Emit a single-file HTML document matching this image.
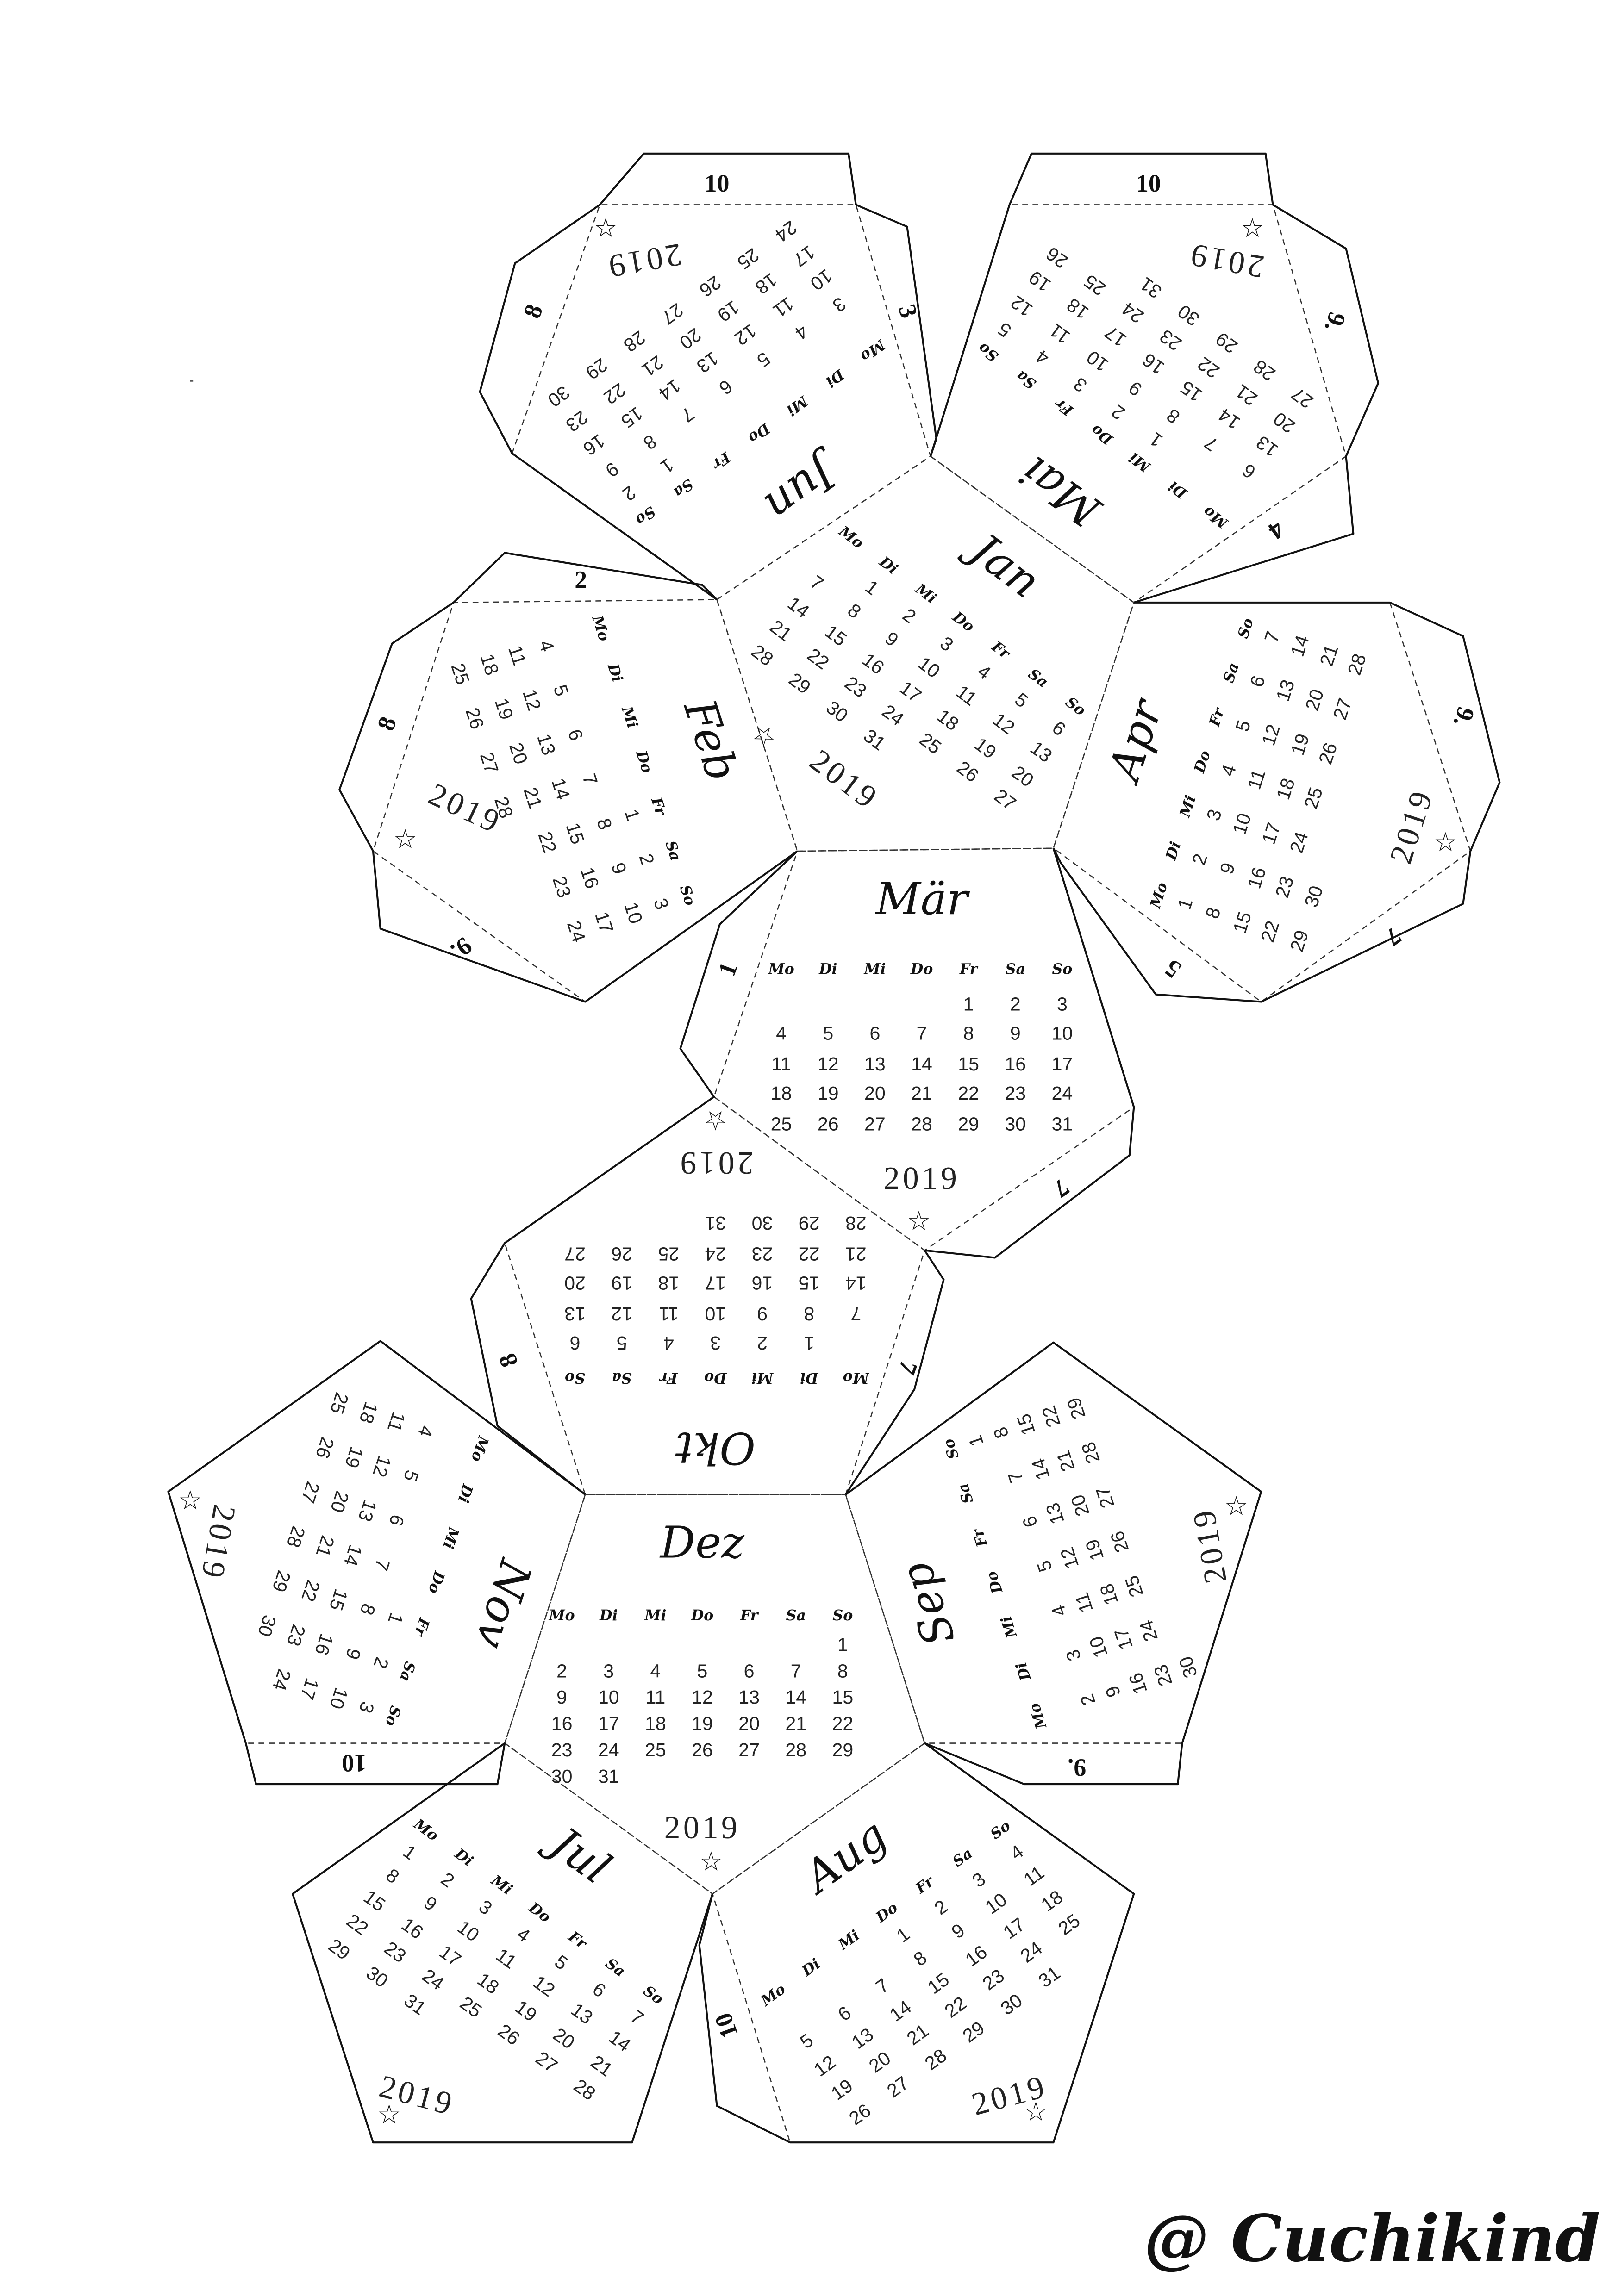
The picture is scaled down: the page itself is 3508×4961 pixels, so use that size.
<!DOCTYPE html>
<html><head><meta charset="utf-8">
<style>
html,body{margin:0;padding:0;background:#fff;}
svg{display:block;}
.d{fill:none;stroke:#333;stroke-width:0.8;stroke-dasharray:4 3;}
.s{fill:none;stroke:#111;stroke-width:1.3;stroke-linejoin:round;}
.m{font-family:"DejaVu Serif","Liberation Serif",serif;font-style:italic;font-size:30px;text-anchor:middle;fill:#111;}
.h{font-family:"DejaVu Serif","Liberation Serif",serif;font-style:italic;font-weight:bold;font-size:10px;text-anchor:middle;fill:#111;}
.n{font-family:"Liberation Sans",sans-serif;font-size:13px;text-anchor:middle;fill:#222;}
.y{font-family:"Liberation Serif",serif;font-size:22px;text-anchor:middle;fill:#222;letter-spacing:2px;}
.t{font-family:"Liberation Serif",serif;font-weight:bold;font-size:17px;text-anchor:middle;fill:#111;}
.st{font-family:"DejaVu Sans",sans-serif;font-size:18px;text-anchor:middle;fill:#111;}
</style></head>
<body>
<svg width="3508" height="4961" viewBox="0 0 1110 1570" preserveAspectRatio="none" xmlns="http://www.w3.org/2000/svg">
<rect width="1110" height="1570" fill="#fff"/>
<polygon class="d" points="490,410 636,312 775,412 720,580 545,582"/>
<polygon class="d" points="545,582 720,580 775,757 632,855 488,750"/>
<polygon class="d" points="488,750 632,855 578,1022 400,1022 345,850"/>
<polygon class="d" points="400,1022 578,1022 632,1192 487,1295 345,1192"/>
<polygon class="d" points="260,917 400,1022 345,1192 168,1192 115,1020"/>
<polygon class="d" points="578,1022 720,918 862,1020 808,1192 632,1192"/>
<polygon class="d" points="345,1192 487,1295 432,1465 255,1465 200,1295"/>
<polygon class="d" points="487,1295 632,1192 775,1295 720,1465 540,1465"/>
<polygon class="d" points="490,410 545,582 400,685 255,582 310,412"/>
<polygon class="d" points="775,412 950,412 1005,582 862,685 720,580"/>
<polygon class="d" points="490,410 636,312 585,140 410,140 350,310"/>
<polygon class="d" points="636,312 690,140 870,140 920,312 775,412"/>

<polyline class="s" points="410,140 440,105 580,105 585,140"/>
<polyline class="s" points="410,140 352,180 328,268 350,310 490,410"/>
<polyline class="s" points="585,140 620,155 640,300 636,312"/>
<polyline class="s" points="636,312 690,140 705,105 865,105 870,140 920,170 942,262 920,312 925,365 775,412"/>
<polyline class="s" points="490,410 480,400 345,378 310,412 268,440 232,540 255,582 260,635 400,685 545,582"/>
<polyline class="s" points="775,412 950,412 1000,435 1025,535 1005,582 1000,618 862,685 790,680 725,590 720,580"/>
<polyline class="s" points="720,580 775,757 772,790 680,860 632,855"/>
<polyline class="s" points="545,582 492,632 465,717 488,750 345,850 322,888 340,975 400,1022"/>
<polyline class="s" points="632,855 645,875 625,950 578,1022"/>
<polyline class="s" points="400,1022 260,917 115,1020 168,1192 175,1220 340,1220 345,1192"/>
<polyline class="s" points="578,1022 720,918 862,1020 808,1192 805,1220 700,1220 632,1192"/>
<polyline class="s" points="345,1192 200,1295 255,1465 432,1465 487,1295"/>
<polyline class="s" points="487,1295 478,1330 490,1440 540,1465 720,1465 775,1295 632,1192"/>

<text class="t" x="490" y="131">10</text>
<text class="t" x="785" y="131">10</text>
<text class="t" x="365" y="218" transform="rotate(-70 365 213)">8</text>
<text class="t" x="620" y="218" transform="rotate(72 620 213)">3</text>
<text class="t" x="912" y="225" transform="rotate(108 912 220)">9.</text>
<text class="t" x="872" y="367" transform="rotate(144 872 362)">4</text>
<text class="t" x="397" y="402">2</text>
<text class="t" x="265" y="500" transform="rotate(-70 265 495)">8</text>
<text class="t" x="315" y="653" transform="rotate(144 315 648)">9.</text>
<text class="t" x="1000" y="495" transform="rotate(108 1000 490)">9.</text>
<text class="t" x="952" y="645" transform="rotate(144 952 640)">7</text>
<text class="t" x="802" y="667" transform="rotate(-144 802 662)">5</text>
<text class="t" x="498" y="668" transform="rotate(-70 498 663)">1</text>
<text class="t" x="725" y="817" transform="rotate(144 725 812)">7</text>
<text class="t" x="348" y="935" transform="rotate(-110 348 930)">8</text>
<text class="t" x="620" y="940" transform="rotate(110 620 935)">7</text>
<text class="t" x="242" y="1212" transform="rotate(180 242 1206)">10</text>
<text class="t" x="736" y="1215" transform="rotate(180 736 1209)">9.</text>
<text class="t" x="497" y="1390" transform="rotate(-110 497 1385)">10</text>

<g transform="translate(633,459) rotate(37)">
<text class="m" y="-80">Jan</text>
<text class="h" y="-39"><tspan x="-96">Mo</tspan><tspan x="-64">Di</tspan><tspan x="-32">Mi</tspan><tspan x="0">Do</tspan><tspan x="32">Fr</tspan><tspan x="64">Sa</tspan><tspan x="96">So</tspan></text>
<text class="n" y="-19"><tspan x="-64">1</tspan><tspan x="-32">2</tspan><tspan x="0">3</tspan><tspan x="32">4</tspan><tspan x="64">5</tspan><tspan x="96">6</tspan></text>
<text class="n" y="1"><tspan x="-96">7</tspan><tspan x="-64">8</tspan><tspan x="-32">9</tspan><tspan x="0">10</tspan><tspan x="32">11</tspan><tspan x="64">12</tspan><tspan x="96">13</tspan></text>
<text class="n" y="22"><tspan x="-96">14</tspan><tspan x="-64">15</tspan><tspan x="-32">16</tspan><tspan x="0">17</tspan><tspan x="32">18</tspan><tspan x="64">19</tspan><tspan x="96">20</tspan></text>
<text class="n" y="42"><tspan x="-96">21</tspan><tspan x="-64">22</tspan><tspan x="-32">23</tspan><tspan x="0">24</tspan><tspan x="32">25</tspan><tspan x="64">26</tspan><tspan x="96">27</tspan></text>
<text class="n" y="63"><tspan x="-96">28</tspan><tspan x="-64">29</tspan><tspan x="-32">30</tspan><tspan x="0">31</tspan></text>
<text class="y" y="100">2019</text>
<text class="st" x="-62" y="108">☆</text>
</g>

<g transform="translate(630,705)">
<text class="m" y="-80">Mär</text>
<text class="h" y="-39"><tspan x="-96">Mo</tspan><tspan x="-64">Di</tspan><tspan x="-32">Mi</tspan><tspan x="0">Do</tspan><tspan x="32">Fr</tspan><tspan x="64">Sa</tspan><tspan x="96">So</tspan></text>
<text class="n" y="-14"><tspan x="32">1</tspan><tspan x="64">2</tspan><tspan x="96">3</tspan></text>
<text class="n" y="6"><tspan x="-96">4</tspan><tspan x="-64">5</tspan><tspan x="-32">6</tspan><tspan x="0">7</tspan><tspan x="32">8</tspan><tspan x="64">9</tspan><tspan x="96">10</tspan></text>
<text class="n" y="27"><tspan x="-96">11</tspan><tspan x="-64">12</tspan><tspan x="-32">13</tspan><tspan x="0">14</tspan><tspan x="32">15</tspan><tspan x="64">16</tspan><tspan x="96">17</tspan></text>
<text class="n" y="47"><tspan x="-96">18</tspan><tspan x="-64">19</tspan><tspan x="-32">20</tspan><tspan x="0">21</tspan><tspan x="32">22</tspan><tspan x="64">23</tspan><tspan x="96">24</tspan></text>
<text class="n" y="68"><tspan x="-96">25</tspan><tspan x="-64">26</tspan><tspan x="-32">27</tspan><tspan x="0">28</tspan><tspan x="32">29</tspan><tspan x="64">30</tspan><tspan x="96">31</tspan></text>
<text class="y" y="108">2019</text>
<text class="st" x="-2" y="136">☆</text>
</g>

<g transform="translate(489,900) rotate(180)">
<text class="m" y="-80">Okt</text>
<text class="h" y="-39"><tspan x="-96">Mo</tspan><tspan x="-64">Di</tspan><tspan x="-32">Mi</tspan><tspan x="0">Do</tspan><tspan x="32">Fr</tspan><tspan x="64">Sa</tspan><tspan x="96">So</tspan></text>
<text class="n" y="-14"><tspan x="-64">1</tspan><tspan x="-32">2</tspan><tspan x="0">3</tspan><tspan x="32">4</tspan><tspan x="64">5</tspan><tspan x="96">6</tspan></text>
<text class="n" y="6"><tspan x="-96">7</tspan><tspan x="-64">8</tspan><tspan x="-32">9</tspan><tspan x="0">10</tspan><tspan x="32">11</tspan><tspan x="64">12</tspan><tspan x="96">13</tspan></text>
<text class="n" y="27"><tspan x="-96">14</tspan><tspan x="-64">15</tspan><tspan x="-32">16</tspan><tspan x="0">17</tspan><tspan x="32">18</tspan><tspan x="64">19</tspan><tspan x="96">20</tspan></text>
<text class="n" y="47"><tspan x="-96">21</tspan><tspan x="-64">22</tspan><tspan x="-32">23</tspan><tspan x="0">24</tspan><tspan x="32">25</tspan><tspan x="64">26</tspan><tspan x="96">27</tspan></text>
<text class="n" y="68"><tspan x="-96">28</tspan><tspan x="-64">29</tspan><tspan x="-32">30</tspan><tspan x="0">31</tspan></text>
<text class="y" y="112">2019</text>
<text class="st" x="0" y="140">☆</text>
</g>

<g transform="translate(480,1145)">
<text class="m" y="-80">Dez</text>
<text class="h" y="-37"><tspan x="-96">Mo</tspan><tspan x="-64">Di</tspan><tspan x="-32">Mi</tspan><tspan x="0">Do</tspan><tspan x="32">Fr</tspan><tspan x="64">Sa</tspan><tspan x="96">So</tspan></text>
<text class="n" y="-16"><tspan x="96">1</tspan></text>
<text class="n" y="2"><tspan x="-96">2</tspan><tspan x="-64">3</tspan><tspan x="-32">4</tspan><tspan x="0">5</tspan><tspan x="32">6</tspan><tspan x="64">7</tspan><tspan x="96">8</tspan></text>
<text class="n" y="20"><tspan x="-96">9</tspan><tspan x="-64">10</tspan><tspan x="-32">11</tspan><tspan x="0">12</tspan><tspan x="32">13</tspan><tspan x="64">14</tspan><tspan x="96">15</tspan></text>
<text class="n" y="38"><tspan x="-96">16</tspan><tspan x="-64">17</tspan><tspan x="-32">18</tspan><tspan x="0">19</tspan><tspan x="32">20</tspan><tspan x="64">21</tspan><tspan x="96">22</tspan></text>
<text class="n" y="56"><tspan x="-96">23</tspan><tspan x="-64">24</tspan><tspan x="-32">25</tspan><tspan x="0">26</tspan><tspan x="32">27</tspan><tspan x="64">28</tspan><tspan x="96">29</tspan></text>
<text class="n" y="74"><tspan x="-96">30</tspan><tspan x="-64">31</tspan></text>
<text class="y" y="112">2019</text>
<text class="st" x="6" y="134">☆</text>
</g>

<g transform="translate(258,1069) rotate(108)">
<text class="m" y="-80">Nov</text>
<text class="h" y="-39"><tspan x="-96">Mo</tspan><tspan x="-64">Di</tspan><tspan x="-32">Mi</tspan><tspan x="0">Do</tspan><tspan x="32">Fr</tspan><tspan x="64">Sa</tspan><tspan x="96">So</tspan></text>
<text class="n" y="-19"><tspan x="32">1</tspan><tspan x="64">2</tspan><tspan x="96">3</tspan></text>
<text class="n" y="1"><tspan x="-96">4</tspan><tspan x="-64">5</tspan><tspan x="-32">6</tspan><tspan x="0">7</tspan><tspan x="32">8</tspan><tspan x="64">9</tspan><tspan x="96">10</tspan></text>
<text class="n" y="22"><tspan x="-96">11</tspan><tspan x="-64">12</tspan><tspan x="-32">13</tspan><tspan x="0">14</tspan><tspan x="32">15</tspan><tspan x="64">16</tspan><tspan x="96">17</tspan></text>
<text class="n" y="42"><tspan x="-96">18</tspan><tspan x="-64">19</tspan><tspan x="-32">20</tspan><tspan x="0">21</tspan><tspan x="32">22</tspan><tspan x="64">23</tspan><tspan x="96">24</tspan></text>
<text class="n" y="63"><tspan x="-96">25</tspan><tspan x="-64">26</tspan><tspan x="-32">27</tspan><tspan x="0">28</tspan><tspan x="32">29</tspan><tspan x="64">30</tspan></text>
</g>
<text class="y" x="150" y="1063" transform="rotate(100 150 1055)">2019</text>
<text class="st" x="130" y="1032">☆</text>

<g transform="translate(720,1069) rotate(-108)">
<text class="m" y="-80">Sep</text>
<text class="h" y="-39"><tspan x="-96">Mo</tspan><tspan x="-64">Di</tspan><tspan x="-32">Mi</tspan><tspan x="0">Do</tspan><tspan x="32">Fr</tspan><tspan x="64">Sa</tspan><tspan x="96">So</tspan></text>
<text class="n" y="-20"><tspan x="96">1</tspan></text>
<text class="n" y="-2"><tspan x="-96">2</tspan><tspan x="-64">3</tspan><tspan x="-32">4</tspan><tspan x="0">5</tspan><tspan x="32">6</tspan><tspan x="64">7</tspan><tspan x="96">8</tspan></text>
<text class="n" y="16"><tspan x="-96">9</tspan><tspan x="-64">10</tspan><tspan x="-32">11</tspan><tspan x="0">12</tspan><tspan x="32">13</tspan><tspan x="64">14</tspan><tspan x="96">15</tspan></text>
<text class="n" y="34"><tspan x="-96">16</tspan><tspan x="-64">17</tspan><tspan x="-32">18</tspan><tspan x="0">19</tspan><tspan x="32">20</tspan><tspan x="64">21</tspan><tspan x="96">22</tspan></text>
<text class="n" y="52"><tspan x="-96">23</tspan><tspan x="-64">24</tspan><tspan x="-32">25</tspan><tspan x="0">26</tspan><tspan x="32">27</tspan><tspan x="64">28</tspan><tspan x="96">29</tspan></text>
<text class="n" y="70"><tspan x="-96">30</tspan></text>
</g>
<text class="y" x="826" y="1065" transform="rotate(-100 826 1057)">2019</text>
<text class="st" x="845" y="1036">☆</text>

<g transform="translate(344,1342) rotate(36)">
<text class="m" y="-80">Jul</text>
<text class="h" y="-39"><tspan x="-96">Mo</tspan><tspan x="-64">Di</tspan><tspan x="-32">Mi</tspan><tspan x="0">Do</tspan><tspan x="32">Fr</tspan><tspan x="64">Sa</tspan><tspan x="96">So</tspan></text>
<text class="n" y="-19"><tspan x="-96">1</tspan><tspan x="-64">2</tspan><tspan x="-32">3</tspan><tspan x="0">4</tspan><tspan x="32">5</tspan><tspan x="64">6</tspan><tspan x="96">7</tspan></text>
<text class="n" y="1"><tspan x="-96">8</tspan><tspan x="-64">9</tspan><tspan x="-32">10</tspan><tspan x="0">11</tspan><tspan x="32">12</tspan><tspan x="64">13</tspan><tspan x="96">14</tspan></text>
<text class="n" y="22"><tspan x="-96">15</tspan><tspan x="-64">16</tspan><tspan x="-32">17</tspan><tspan x="0">18</tspan><tspan x="32">19</tspan><tspan x="64">20</tspan><tspan x="96">21</tspan></text>
<text class="n" y="42"><tspan x="-96">22</tspan><tspan x="-64">23</tspan><tspan x="-32">24</tspan><tspan x="0">25</tspan><tspan x="32">26</tspan><tspan x="64">27</tspan><tspan x="96">28</tspan></text>
<text class="n" y="63"><tspan x="-96">29</tspan><tspan x="-64">30</tspan><tspan x="-32">31</tspan></text>
</g>
<text class="y" x="285" y="1440" transform="rotate(15 285 1433)">2019</text>
<text class="st" x="266" y="1452">☆</text>

<g transform="translate(631,1342) rotate(-36)">
<text class="m" y="-80">Aug</text>
<text class="h" y="-39"><tspan x="-96">Mo</tspan><tspan x="-64">Di</tspan><tspan x="-32">Mi</tspan><tspan x="0">Do</tspan><tspan x="32">Fr</tspan><tspan x="64">Sa</tspan><tspan x="96">So</tspan></text>
<text class="n" y="-19"><tspan x="0">1</tspan><tspan x="32">2</tspan><tspan x="64">3</tspan><tspan x="96">4</tspan></text>
<text class="n" y="1"><tspan x="-96">5</tspan><tspan x="-64">6</tspan><tspan x="-32">7</tspan><tspan x="0">8</tspan><tspan x="32">9</tspan><tspan x="64">10</tspan><tspan x="96">11</tspan></text>
<text class="n" y="22"><tspan x="-96">12</tspan><tspan x="-64">13</tspan><tspan x="-32">14</tspan><tspan x="0">15</tspan><tspan x="32">16</tspan><tspan x="64">17</tspan><tspan x="96">18</tspan></text>
<text class="n" y="42"><tspan x="-96">19</tspan><tspan x="-64">20</tspan><tspan x="-32">21</tspan><tspan x="0">22</tspan><tspan x="32">23</tspan><tspan x="64">24</tspan><tspan x="96">25</tspan></text>
<text class="n" y="63"><tspan x="-96">26</tspan><tspan x="-64">27</tspan><tspan x="-32">28</tspan><tspan x="0">29</tspan><tspan x="32">30</tspan><tspan x="64">31</tspan></text>
</g>
<text class="y" x="690" y="1440" transform="rotate(-15 690 1433)">2019</text>
<text class="st" x="708" y="1450">☆</text>

<g transform="translate(400,534) rotate(72)">
<text class="m" y="-80">Feb</text>
<text class="h" y="-39"><tspan x="-96">Mo</tspan><tspan x="-64">Di</tspan><tspan x="-32">Mi</tspan><tspan x="0">Do</tspan><tspan x="32">Fr</tspan><tspan x="64">Sa</tspan><tspan x="96">So</tspan></text>
<text class="n" y="-19"><tspan x="32">1</tspan><tspan x="64">2</tspan><tspan x="96">3</tspan></text>
<text class="n" y="1"><tspan x="-96">4</tspan><tspan x="-64">5</tspan><tspan x="-32">6</tspan><tspan x="0">7</tspan><tspan x="32">8</tspan><tspan x="64">9</tspan><tspan x="96">10</tspan></text>
<text class="n" y="22"><tspan x="-96">11</tspan><tspan x="-64">12</tspan><tspan x="-32">13</tspan><tspan x="0">14</tspan><tspan x="32">15</tspan><tspan x="64">16</tspan><tspan x="96">17</tspan></text>
<text class="n" y="42"><tspan x="-96">18</tspan><tspan x="-64">19</tspan><tspan x="-32">20</tspan><tspan x="0">21</tspan><tspan x="32">22</tspan><tspan x="64">23</tspan><tspan x="96">24</tspan></text>
<text class="n" y="63"><tspan x="-96">25</tspan><tspan x="-64">26</tspan><tspan x="-32">27</tspan><tspan x="0">28</tspan></text>
</g>
<text class="y" x="318" y="560" transform="rotate(25 318 553)">2019</text>
<text class="st" x="277" y="580">☆</text>

<g transform="translate(862,534) rotate(-72)">
<text class="m" y="-80">Apr</text>
<text class="h" y="-39"><tspan x="-96">Mo</tspan><tspan x="-64">Di</tspan><tspan x="-32">Mi</tspan><tspan x="0">Do</tspan><tspan x="32">Fr</tspan><tspan x="64">Sa</tspan><tspan x="96">So</tspan></text>
<text class="n" y="-19"><tspan x="-96">1</tspan><tspan x="-64">2</tspan><tspan x="-32">3</tspan><tspan x="0">4</tspan><tspan x="32">5</tspan><tspan x="64">6</tspan><tspan x="96">7</tspan></text>
<text class="n" y="1"><tspan x="-96">8</tspan><tspan x="-64">9</tspan><tspan x="-32">10</tspan><tspan x="0">11</tspan><tspan x="32">12</tspan><tspan x="64">13</tspan><tspan x="96">14</tspan></text>
<text class="n" y="22"><tspan x="-96">15</tspan><tspan x="-64">16</tspan><tspan x="-32">17</tspan><tspan x="0">18</tspan><tspan x="32">19</tspan><tspan x="64">20</tspan><tspan x="96">21</tspan></text>
<text class="n" y="42"><tspan x="-96">22</tspan><tspan x="-64">23</tspan><tspan x="-32">24</tspan><tspan x="0">25</tspan><tspan x="32">26</tspan><tspan x="64">27</tspan><tspan x="96">28</tspan></text>
<text class="n" y="63"><tspan x="-96">29</tspan><tspan x="-64">30</tspan></text>
</g>
<text class="y" x="965" y="572" transform="rotate(-72 965 565)">2019</text>
<text class="st" x="988" y="582">☆</text>

<g transform="translate(494,262) rotate(144)">
<text class="m" y="-80">Jun</text>
<text class="h" y="-39"><tspan x="-96">Mo</tspan><tspan x="-64">Di</tspan><tspan x="-32">Mi</tspan><tspan x="0">Do</tspan><tspan x="32">Fr</tspan><tspan x="64">Sa</tspan><tspan x="96">So</tspan></text>
<text class="n" y="-19"><tspan x="64">1</tspan><tspan x="96">2</tspan></text>
<text class="n" y="1"><tspan x="-96">3</tspan><tspan x="-64">4</tspan><tspan x="-32">5</tspan><tspan x="0">6</tspan><tspan x="32">7</tspan><tspan x="64">8</tspan><tspan x="96">9</tspan></text>
<text class="n" y="22"><tspan x="-96">10</tspan><tspan x="-64">11</tspan><tspan x="-32">12</tspan><tspan x="0">13</tspan><tspan x="32">14</tspan><tspan x="64">15</tspan><tspan x="96">16</tspan></text>
<text class="n" y="42"><tspan x="-96">17</tspan><tspan x="-64">18</tspan><tspan x="-32">19</tspan><tspan x="0">20</tspan><tspan x="32">21</tspan><tspan x="64">22</tspan><tspan x="96">23</tspan></text>
<text class="n" y="63"><tspan x="-96">24</tspan><tspan x="-64">25</tspan><tspan x="-32">26</tspan><tspan x="0">27</tspan><tspan x="32">28</tspan><tspan x="64">29</tspan><tspan x="96">30</tspan></text>
</g>
<text class="y" x="440" y="185" transform="rotate(170 440 178)">2019</text>
<text class="st" x="414" y="162">☆</text>

<g transform="translate(778,263) rotate(-144)">
<text class="m" y="-80">Mai</text>
<text class="h" y="-39"><tspan x="-96">Mo</tspan><tspan x="-64">Di</tspan><tspan x="-32">Mi</tspan><tspan x="0">Do</tspan><tspan x="32">Fr</tspan><tspan x="64">Sa</tspan><tspan x="96">So</tspan></text>
<text class="n" y="-19"><tspan x="-32">1</tspan><tspan x="0">2</tspan><tspan x="32">3</tspan><tspan x="64">4</tspan><tspan x="96">5</tspan></text>
<text class="n" y="1"><tspan x="-96">6</tspan><tspan x="-64">7</tspan><tspan x="-32">8</tspan><tspan x="0">9</tspan><tspan x="32">10</tspan><tspan x="64">11</tspan><tspan x="96">12</tspan></text>
<text class="n" y="22"><tspan x="-96">13</tspan><tspan x="-64">14</tspan><tspan x="-32">15</tspan><tspan x="0">16</tspan><tspan x="32">17</tspan><tspan x="64">18</tspan><tspan x="96">19</tspan></text>
<text class="n" y="42"><tspan x="-96">20</tspan><tspan x="-64">21</tspan><tspan x="-32">22</tspan><tspan x="0">23</tspan><tspan x="32">24</tspan><tspan x="64">25</tspan><tspan x="96">26</tspan></text>
<text class="n" y="63"><tspan x="-96">27</tspan><tspan x="-64">28</tspan><tspan x="-32">29</tspan><tspan x="0">30</tspan><tspan x="32">31</tspan></text>
</g>
<text class="y" x="838" y="185" transform="rotate(190 838 178)">2019</text>
<text class="st" x="856" y="162">☆</text>

<text x="782" y="1546" font-family="DejaVu Serif, Liberation Serif, serif" font-style="italic" font-weight="bold" font-size="44" fill="#111">@ Cuchikind</text>
<rect x="130" y="260" width="2" height="1" fill="#555"/>
</svg>
</body></html>
